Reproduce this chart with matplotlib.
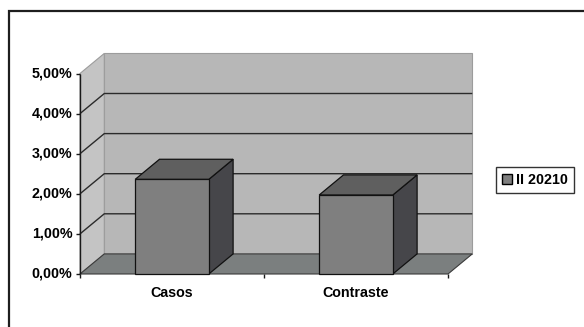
import numpy as np
import matplotlib
matplotlib.use("Agg")
import matplotlib.pyplot as plt
from matplotlib.patches import Polygon, Rectangle, Patch
from matplotlib.transforms import IdentityTransform

categories = ["Casos", "Contraste"]
values = [0.0236, 0.0197]
series_name = "II 20210"
y_ticks = [0.00, 0.01, 0.02, 0.03, 0.04, 0.05]

plt.rcParams['font.family'] = ['Liberation Sans', 'DejaVu Sans']
plt.rcParams['font.weight'] = 'bold'

W, H, DPI = 584, 327, 100
fig = plt.figure(figsize=(W / DPI, H / DPI), dpi=DPI)
fig.patch.set_facecolor('white')

# front plane of the 3-D box
ax = fig.add_axes([80 / W, 1 - 274 / H, 368 / W, (274 - 73.5) / H])
ax.set_xlim(0, len(categories))
ax.set_ylim(0, y_ticks[-1])
ax.axis('off')

# oblique depth offset (inches -> display)
depth = fig.dpi_scale_trans.transform((0.243, 0.201)) - fig.dpi_scale_trans.transform((0, 0))
ID = IdentityTransform()


def pt(x, y, d):
    return ax.transData.transform((x, y)) + d * depth


def face(points, fc, ec='none', lw=0.8, z=1):
    ax.add_patch(Polygon(np.array(points), closed=True, transform=ID, clip_on=False,
                         facecolor=fc, edgecolor=ec, linewidth=lw, zorder=z))


def seg(points, color, lw=1.0, z=2):
    p = np.array(points)
    ax.plot(p[:, 0], p[:, 1], transform=ID, clip_on=False, color=color, lw=lw,
            zorder=z, solid_capstyle='butt')


n = len(categories)
ymax = y_ticks[-1]

# walls and floor
face([pt(0, 0, 1), pt(n, 0, 1), pt(n, ymax, 1), pt(0, ymax, 1)], '#b7b7b7', '#9c9c9c', 0.8, 1)
face([pt(0, 0, 0), pt(0, 0, 1), pt(0, ymax, 1), pt(0, ymax, 0)], '#c4c4c4', '#9c9c9c', 0.8, 1)
face([pt(0, 0, 0), pt(n, 0, 0), pt(n, 0, 1), pt(0, 0, 1)], '#7b7f7f', '#3a3a3a', 0.8, 1.5)

# gridlines on side and back walls
for v in y_ticks[1:-1]:
    seg([pt(0, v, 0), pt(0, v, 1), pt(n, v, 1)], '#2b2b2b', 1.0, 2)

# value axis
seg([pt(0, 0, 0), pt(0, ymax, 0)], '#1a1a1a', 1.0, 3)
for v in y_ticks:
    p = pt(0, v, 0)
    seg([p - np.array([4, 0]), p], '#1a1a1a', 1.0, 3)
    ax.annotate(f"{v * 100:.2f}%".replace('.', ','), xy=(0, v), xytext=(-5.5, 0),
                textcoords='offset points', ha='right', va='center',
                fontsize=10.3, fontweight='bold', color='black', annotation_clip=False)

# category axis ticks and labels
for k in range(n + 1):
    p = pt(k, 0, 0)
    seg([p, p - np.array([0, 4])], '#1a1a1a', 1.0, 3)
for i, c in enumerate(categories):
    ax.annotate(c, xy=(i + 0.5, 0), xytext=(0, -16.8), textcoords='offset points',
                ha='center', va='baseline', fontsize=10.3, fontweight='bold',
                color='black', annotation_clip=False)

# bars
bar_w = 0.4
for i, v in enumerate(values):
    x0, x1 = i + 0.5 - bar_w / 2, i + 0.5 + bar_w / 2
    face([pt(x1, 0, 0), pt(x1, 0, 1), pt(x1, v, 1), pt(x1, v, 0)], '#46464a', '#111111', 0.9, 4)
    face([pt(x0, v, 0), pt(x1, v, 0), pt(x1, v, 1), pt(x0, v, 1)], '#5f5f5f', '#111111', 0.9, 4)
    face([pt(x0, 0, 0), pt(x1, 0, 0), pt(x1, v, 0), pt(x0, v, 0)], '#7f7f7f', '#111111', 0.9, 5)

# legend
leg = fig.legend(handles=[Patch(facecolor='#7f7f7f', edgecolor='black', label=series_name)],
                 loc='center left', bbox_to_anchor=(496 / W, 1 - 180 / H),
                 frameon=True, fancybox=False, shadow=False, edgecolor='black',
                 handlelength=0.65, handleheight=0.65, handletextpad=0.3,
                 borderpad=0.45, borderaxespad=0.0,
                 prop={'size': 10.3, 'weight': 'bold'})
leg.get_frame().set_linewidth(1.0)

# chart area border
fig.patches.append(Rectangle((9 / W, -0.1), 1.2, 1.1 - 11 / H, transform=fig.transFigure,
                             fill=False, edgecolor='#1e1e1e', linewidth=1.6))

fig.savefig('out.png', dpi=DPI)
